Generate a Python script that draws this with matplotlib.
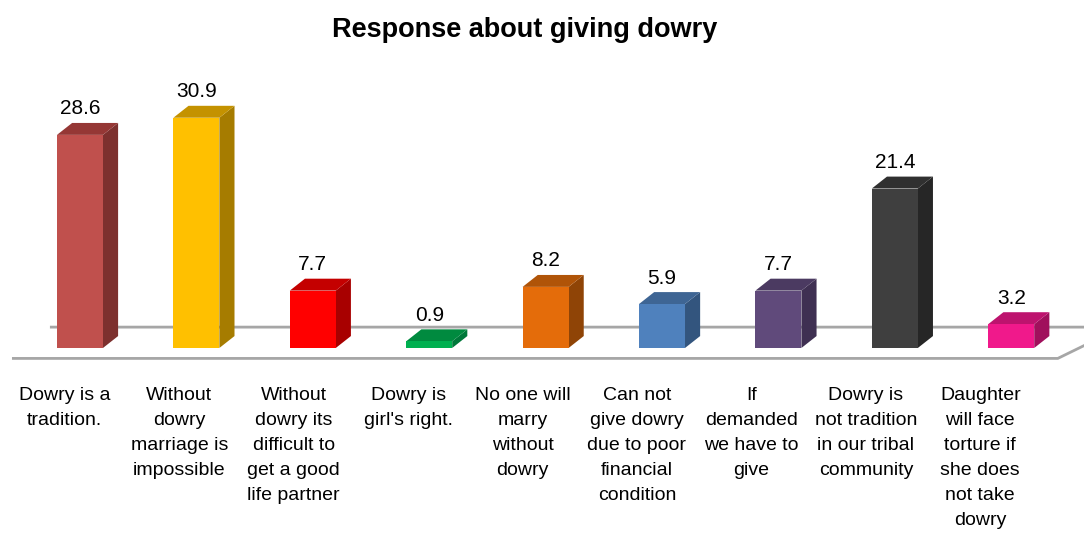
"""
Response about giving dowry: Excel-style 3D column chart drawn with
flat matplotlib polygons (front, side and top faces per column).
"""

import matplotlib
matplotlib.use("Agg")
import matplotlib.pyplot as plt
from matplotlib.patches import Polygon

plt.rcParams["font.family"] = ["Liberation Sans", "DejaVu Sans"]

categories = [
    "Dowry is a\ntradition.",
    "Without\ndowry\nmarriage is\nimpossible",
    "Without\ndowry its\ndifficult to\nget a good\nlife partner",
    "Dowry is\ngirl's right.",
    "No one will\nmarry\nwithout\ndowry",
    "Can not\ngive dowry\ndue to poor\nfinancial\ncondition",
    "If\ndemanded\nwe have to\ngive",
    "Dowry is\nnot tradition\nin our tribal\ncommunity",
    "Daughter\nwill face\ntorture if\nshe does\nnot take\ndowry",
]
values = [28.6, 30.9, 7.7, 0.9, 8.2, 5.9, 7.7, 21.4, 3.2]

# (front, side, top) shades for each column
face_colors = [
    ("#C0504D", "#7D302E", "#953735"),
    ("#FFC000", "#A67C00", "#C49200"),
    ("#FF0000", "#A80000", "#C40000"),
    ("#00B050", "#00783A", "#008A3F"),
    ("#E46C0A", "#8F4406", "#B05408"),
    ("#4F81BD", "#33557E", "#3E6594"),
    ("#604A7B", "#3F3052", "#4B3A61"),
    ("#3F3F3F", "#262626", "#303030"),
    ("#F0198B", "#A0105C", "#BD136E"),
]

BAR_W = 0.395      # column width in category units
DEPTH_X = 0.13     # oblique depth offset (category units)
DEPTH_Y = 1.6      # oblique depth offset (value units)

fig = plt.figure(figsize=(10.84, 5.33), dpi=100)
ax = fig.add_axes([0, 0, 1, 1])
ax.set_xlim(-0.687, 8.625)
ax.set_ylim(-24.83, 46.7)
ax.axis("off")

# floor of the 3D plot area
floor = Polygon(
    [(-0.584, -1.4), (8.40, -1.4), (8.78, 1.5), (8.78, 2.8), (-0.258, 2.8)],
    closed=False, facecolor="white", edgecolor="#A6A6A6", linewidth=2.0,
    zorder=1,
)
ax.add_patch(floor)

for i, (v, (c_front, c_side, c_top)) in enumerate(zip(values, face_colors)):
    x0, x1 = i - BAR_W / 2, i + BAR_W / 2
    front = Polygon([(x0, 0), (x1, 0), (x1, v), (x0, v)],
                    facecolor=c_front, edgecolor="none", zorder=3)
    side = Polygon([(x1, 0), (x1 + DEPTH_X, DEPTH_Y),
                    (x1 + DEPTH_X, v + DEPTH_Y), (x1, v)],
                   facecolor=c_side, edgecolor="none", zorder=3)
    top = Polygon([(x0, v), (x1, v), (x1 + DEPTH_X, v + DEPTH_Y),
                   (x0 + DEPTH_X, v + DEPTH_Y)],
                  facecolor=c_top, edgecolor="none", zorder=3)
    for p in (side, top, front):
        ax.add_patch(p)
    ax.text(i, v + DEPTH_Y + 0.6, f"{v:.1f}", ha="center", va="bottom",
            fontsize=15, color="black", zorder=4)

# category labels, slightly foreshortened toward the left like the 3D axis
for i, label in enumerate(categories):
    ax.text(i * 0.983 - 0.13, -5.2, label, ha="center", va="top",
            fontsize=14, linespacing=1.62, color="black")

fig.text(0.484, 0.943, "Response about giving dowry", ha="center",
         va="center", fontsize=19.5, fontweight="bold")

fig.savefig("out.png", dpi=100)
